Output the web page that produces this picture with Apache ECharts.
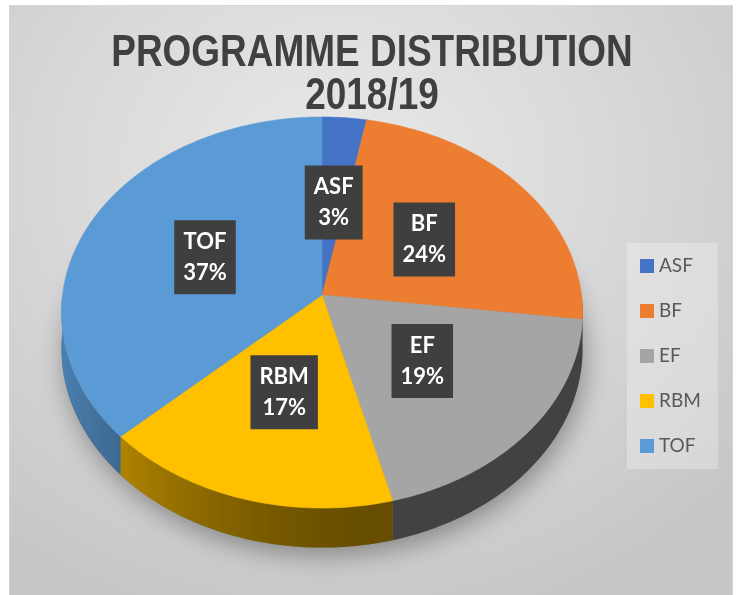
<!DOCTYPE html>
<html>
<head>
<meta charset="utf-8">
<title>Programme distribution 2018/19</title>
<script src="https://cdn.jsdelivr.net/npm/echarts@6/dist/echarts.min.js"></script>
<style>
  html, body { margin: 0; padding: 0; background: #fff; }
  #main {
    position: absolute; left: 9px; top: 5px; width: 724px; height: 590px;
    box-sizing: border-box; border: 1px solid #d6d6d6; border-bottom: none;
    background: radial-gradient(ellipse 75% 80% at 45% 28%, #e9e9e9 0%, #d9d9d9 50%, #c6c6c6 100%);
  }
</style>
</head>
<body>
<div id="main"></div>
<script>
// chart values
var categories = ['ASF', 'BF', 'EF', 'RBM', 'TOF'];
var shares = [3, 24, 19, 17, 37];
var colors = ['#4472C4', '#ED7D31', '#A5A5A5', '#FFC000', '#5B9BD5'];
var titleLines = ['PROGRAMME DISTRIBUTION', '2018/19'];

// tilted pie geometry (pixels inside the chart div)
var pie = { cx: 312, cy: 289, a: 259.5, b: 194, p: 0.0895, h: 36 };

var total = shares.reduce(function (s, v) { return s + v; }, 0);

function proj(deg, r, drop) {
    var t = deg * Math.PI / 180;
    var s = 1 / (1 + pie.p * r * Math.cos(t));
    return [
        pie.cx + pie.a * r * Math.sin(t) * s,
        pie.cy - pie.b * r * Math.cos(t) * s + (drop ? pie.h * s : 0)
    ];
}

function shade(hex, f) {
    var n = parseInt(hex.slice(1), 16);
    var r = Math.round(((n >> 16) & 255) * f);
    var g = Math.round(((n >> 8) & 255) * f);
    var b = Math.round((n & 255) * f);
    return 'rgb(' + r + ',' + g + ',' + b + ')';
}

// darker towards the front/right, lighter on the left side
function sideFactor(deg) {
    var t = Math.min(1, Math.max(0, (deg - 165) / 100));
    return 0.40 + 0.42 * t * t * (3 - 2 * t);
}

function range(a, b, step) {
    var out = [];
    for (var d = a; d < b; d += step) out.push(d);
    out.push(b);
    return out;
}

function sliceRenderer(idx) {
    return function (params, api) {
        var value = api.value(0);
        var before = 0;
        for (var k = 0; k < idx; k++) before += shares[k];
        var a0 = before / total * 360;
        var a1 = (before + value) / total * 360;
        var children = [];

        if (idx === 0) {
            // soft shadow under the whole pie
            var base = range(0, 360, 3).map(function (d) { return proj(d, 1, true); });
            children.push({
                type: 'polygon', z2: 1,
                shape: { points: base },
                style: { fill: '#777', shadowBlur: 26, shadowColor: 'rgba(0,0,0,0.35)', shadowOffsetX: 3, shadowOffsetY: 8 }
            });
        }

        // side wall (front half only)
        var s0 = Math.max(a0, 90), s1 = Math.min(a1, 270);
        if (s1 > s0) {
            var degs = range(s0, s1, 1);
            var top = degs.map(function (d) { return proj(d, 1, false); });
            var bot = degs.map(function (d) { return proj(d, 1, true); }).reverse();
            var xs = top.map(function (p) { return p[0]; });
            var xl = Math.min.apply(null, xs), xr = Math.max.apply(null, xs);
            var stops = degs.map(function (d, i) {
                var off = xr > xl ? (xs[i] - xl) / (xr - xl) : 0;
                return { offset: off, color: shade(colors[idx], sideFactor(d)) };
            }).sort(function (m, n) { return m.offset - n.offset; });
            children.push({
                type: 'polygon', z2: 5,
                shape: { points: top.concat(bot) },
                style: { fill: new echarts.graphic.LinearGradient(xl, 0, xr + 0.01, 0, stops, true) }
            });
        }

        // top face
        var pts = [[pie.cx, pie.cy]].concat(range(a0, a1, 1).map(function (d) { return proj(d, 1, false); }));
        children.push({
            type: 'polygon', z2: 10,
            shape: { points: pts },
            style: { fill: colors[idx], stroke: colors[idx], lineWidth: 0.5 }
        });

        // data label
        var lp = proj((a0 + a1) / 2, 0.5, false);
        children.push({
            type: 'text', z2: 100, x: lp[0], y: lp[1],
            style: {
                text: categories[idx] + '\n' + Math.round(value / total * 100) + '%',
                fill: '#fff', font: 'bold 22px Lato', lineHeight: 31,
                align: 'center', verticalAlign: 'middle',
                backgroundColor: '#3f3f3f', padding: [6, 9],
                boxShadowBlur: 6, boxShadowColor: 'rgba(0,0,0,0.45)',
                boxShadowOffsetX: 2, boxShadowOffsetY: 3
            }
        });

        return { type: 'group', children: children };
    };
}

var chart = echarts.init(document.getElementById('main'));

var series = categories.map(function (name, i) {
    return {
        type: 'custom',
        name: name,
        coordinateSystem: 'none',
        itemStyle: { color: colors[i] },
        data: [[shares[i]]],
        renderItem: sliceRenderer(i)
    };
});

// narrow bold title (Arial Narrow look: Liberation Sans Bold squeezed)
var titleGraphic = titleLines.map(function (line, i) {
    return {
        type: 'text',
        x: 362,
        y: 48 + i * 43,
        scaleX: 0.84,
        style: {
            text: line,
            font: 'bold 44px "Liberation Sans", Arial, sans-serif',
            fill: '#404040',
            align: 'center',
            verticalAlign: 'middle'
        }
    };
});

chart.setOption({
    animation: false,
    backgroundColor: 'transparent',
    graphic: titleGraphic,
    legend: {
        orient: 'vertical',
        left: 617,
        top: 237,
        data: categories,
        icon: 'rect',
        itemWidth: 14,
        itemHeight: 14,
        itemGap: 25,
        padding: [13, 17, 13, 13],
        backgroundColor: 'rgba(255,255,255,0.28)',
        selectedMode: false,
        textStyle: { color: '#595959', fontSize: 19, fontFamily: 'Lato', lineHeight: 20 }
    },
    series: series
});
</script>
</body>
</html>
